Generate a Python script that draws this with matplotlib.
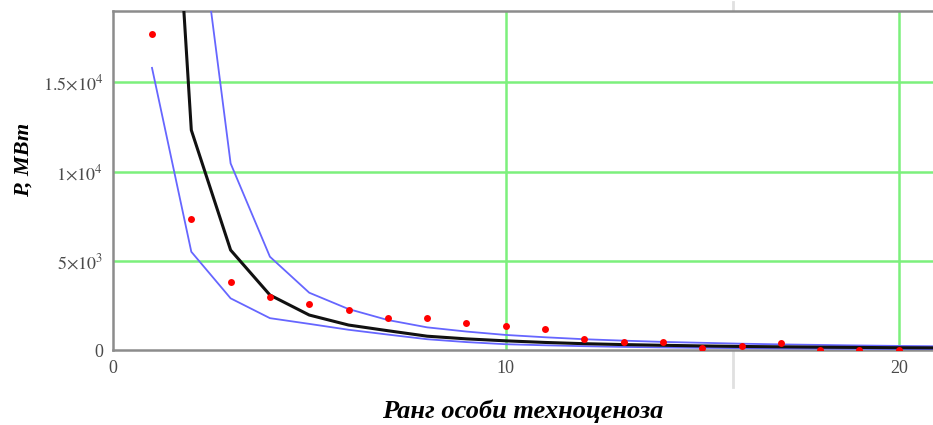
import matplotlib
matplotlib.use("Agg")
import matplotlib.pyplot as plt
from matplotlib.lines import Line2D

# Rank of each object in the technocenosis
ranks = list(range(1, 22))

# Observed power values, MW
observed_ranks = list(range(1, 21))
observed_power = [17740, 7330, 3805, 3000, 2590, 2240, 1825, 1825, 1510, 1360,
                  1210, 632, 447, 447, 120, 250, 390, 30, 30, 30]

# Rank distribution (approximation) and its upper / lower bounds
fit_power = [47600, 12330, 5613, 3095, 1975, 1415, 1097, 790, 640, 530,
             440, 370, 320, 280, 245, 215, 195, 175, 160, 145, 135]
upper_power = [80000, 27650, 10465, 5240, 3225, 2310, 1695, 1285, 1050, 860,
               730, 620, 540, 470, 420, 370, 330, 300, 270, 245, 225]
lower_power = [15815, 5518, 2910, 1800, 1480, 1150, 880, 620, 460, 340,
               280, 230, 190, 160, 140, 120, 105, 95, 85, 75, 70]

y_ticks = [0, 5000, 10000, 15000]
y_tick_labels = ["0", r"$5{\times}10^{3}$", r"$1{\times}10^{4}$", r"$1.5{\times}10^{4}$"]
x_ticks = [0, 10, 20]
x_tick_labels = ["0", "10", "20"]

plt.rcParams["font.family"] = ["Liberation Serif", "DejaVu Serif"]
plt.rcParams["mathtext.fontset"] = "stix"

W, H = 933, 425
fig = plt.figure(figsize=(W / 100, H / 100), dpi=100)
fig.patch.set_facecolor("white")

left_px, top_px, bottom_px = 112.7, 11.0, 350.3
ax = fig.add_axes([left_px / W, 1 - bottom_px / H, 1 - left_px / W, (bottom_px - top_px) / H])
ax.set_xlim(0, 20.87)
ax.set_ylim(0, 19000)

# grid lines
grid_color = "#7cf07c"
for yv in y_ticks[1:]:
    ax.axhline(yv, color=grid_color, lw=1.8, zorder=1)
for xv in x_ticks[1:]:
    ax.axvline(xv, color=grid_color, lw=1.8, zorder=1)

ax.plot(ranks, upper_power, color="#6666ff", lw=1.3, zorder=3)
ax.plot(ranks, lower_power, color="#6666ff", lw=1.3, zorder=3)
ax.plot(ranks, fit_power, color="#111111", lw=2.2, zorder=4)
ax.plot(observed_ranks, observed_power, "o", color="red", ms=5, mec="none", zorder=5)

for side in ("left", "bottom", "top"):
    ax.spines[side].set_color("#8c8c8c")
    ax.spines[side].set_linewidth(1.8)
ax.spines["right"].set_visible(False)

ax.set_xticks(x_ticks)
ax.set_xticklabels(x_tick_labels)
ax.set_yticks(y_ticks)
ax.set_yticklabels(y_tick_labels)
ax.tick_params(length=0, labelsize=13, labelcolor="#4a4a4a", pad=7)

ax.set_xlabel("Ранг особи техноценоза", fontsize=19, fontweight="bold",
              fontstyle="italic", labelpad=16)
ax.set_ylabel("P, МВт", fontsize=16, fontweight="bold", fontstyle="italic")
ax.yaxis.set_label_coords((34 - left_px) / (W - left_px), 0.56)

# thin page divider
fig.add_artist(Line2D([733 / W, 733 / W], [1 - 2 / H, 1 - 387 / H],
                      color="#e0e0e0", lw=2, zorder=0))

fig.savefig("out.png", dpi=100, facecolor="white")
